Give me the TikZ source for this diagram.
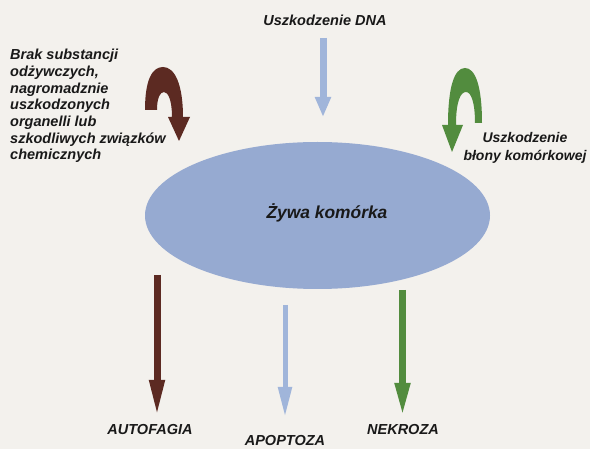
\documentclass[tikz,border=0pt]{standalone}
\usepackage{fontspec}
\setmainfont{Liberation Sans}
\usepackage{tikz}
\usetikzlibrary{positioning,arrows.meta}

\definecolor{paper}{RGB}{243,241,237}
\definecolor{cellblue}{RGB}{150,170,209}
\definecolor{dnablue}{RGB}{160,181,218}
\definecolor{autobrown}{RGB}{92,42,34}
\definecolor{necgreen}{RGB}{82,140,62}
\definecolor{inkgray}{RGB}{25,25,25}

\begin{document}
\begin{tikzpicture}[x=1pt,y=-1pt,
        every node/.style={inner sep=0pt, text=inkgray},
        lbl/.style={font=\bfseries\itshape\fontsize{14.5}{16.7}\selectfont},
        brownarrow/.style={draw=autobrown, line width=7pt,
          -{Triangle[length=37pt,width=14pt]}},
        bluearrow/.style={draw=dnablue, line width=5pt,
          -{Triangle[length=30pt,width=13pt]}},
        greenarrow/.style={draw=necgreen, line width=7pt,
          -{Triangle[length=34pt,width=14pt]}}]

        % Page background
        \fill[paper] (0,0) rectangle (590,449);
        \useasboundingbox (0,0) rectangle (590,449);

        %%% The living cell in the middle
        \fill[cellblue] (317.5,215.5) ellipse [x radius=172.5, y radius=73.5];
        \node[lbl, font=\bfseries\itshape\fontsize{17.4}{20}\selectfont] (cell) at (327,213) {Żywa komórka};

        %%% Causes above the cell
        % DNA damage
        \node[lbl] (dnaLabel) at (325,20) {Uszkodzenie DNA};
        \coordinate (dnaFrom) at (323,38);
        \coordinate (dnaTo) at (323,117);
        \draw[bluearrow, line width=7pt, -{Triangle[length=20pt,width=15pt]}] (dnaFrom) -- (dnaTo);

        % Starvation, damaged organelles
        \node[lbl, align=left, anchor=north west] (starveLabel) at (10,49)
          {Brak substancji\\odżywczych,\\nagromadznie\\uszkodzonych\\organelli lub\\szkodliwych związków\\chemicznych};
        \fill[autobrown] (145,110) .. controls (145,80) and (152,67) .. (163,67)
          .. controls (175,67) and (183,85) .. (183,117) -- (190,117) -- (179,141)
          -- (168,117) -- (172,117) .. controls (172,100) and (168,92) .. (164,92)
          .. controls (160,92) and (157,98) .. (157,110) -- cycle;

        % Membrane damage
        \node[lbl, align=center, font=\bfseries\itshape\fontsize{14}{18.5}\selectfont] (membraneLabel) at (525,148)
          {Uszkodzenie\\błony komórkowej};
        \fill[necgreen] (482,123) .. controls (482,85) and (475,68) .. (465,68)
          .. controls (454,68) and (448,88) .. (448,125) -- (442,125) -- (452,152)
          -- (463,125) -- (456,125) .. controls (456,100) and (461,92) .. (466,92)
          .. controls (471,92) and (475,102) .. (475,123) -- cycle;

        %%% Outcomes below the cell
        \node[lbl, anchor=base] (autofagia) at (150,435) {AUTOFAGIA};
        \node[lbl, anchor=base] (apoptoza) at (285,446) {APOPTOZA};
        \node[lbl, anchor=base] (nekroza) at (403,435) {NEKROZA};

        \coordinate (autoFrom) at (157,275);
        \coordinate (autoTo) at (157,417);
        \coordinate (apoFrom) at (285,305);
        \coordinate (apoTo) at (285,417);
        \coordinate (nekFrom) at (402.5,290);
        \coordinate (nekTo) at (402.5,417);

        \draw[brownarrow] (autoFrom) -- (autoTo);
        \draw[bluearrow] (apoFrom) -- (apoTo);
        \draw[greenarrow] (nekFrom) -- (nekTo);
      \end{tikzpicture}
\end{document}
